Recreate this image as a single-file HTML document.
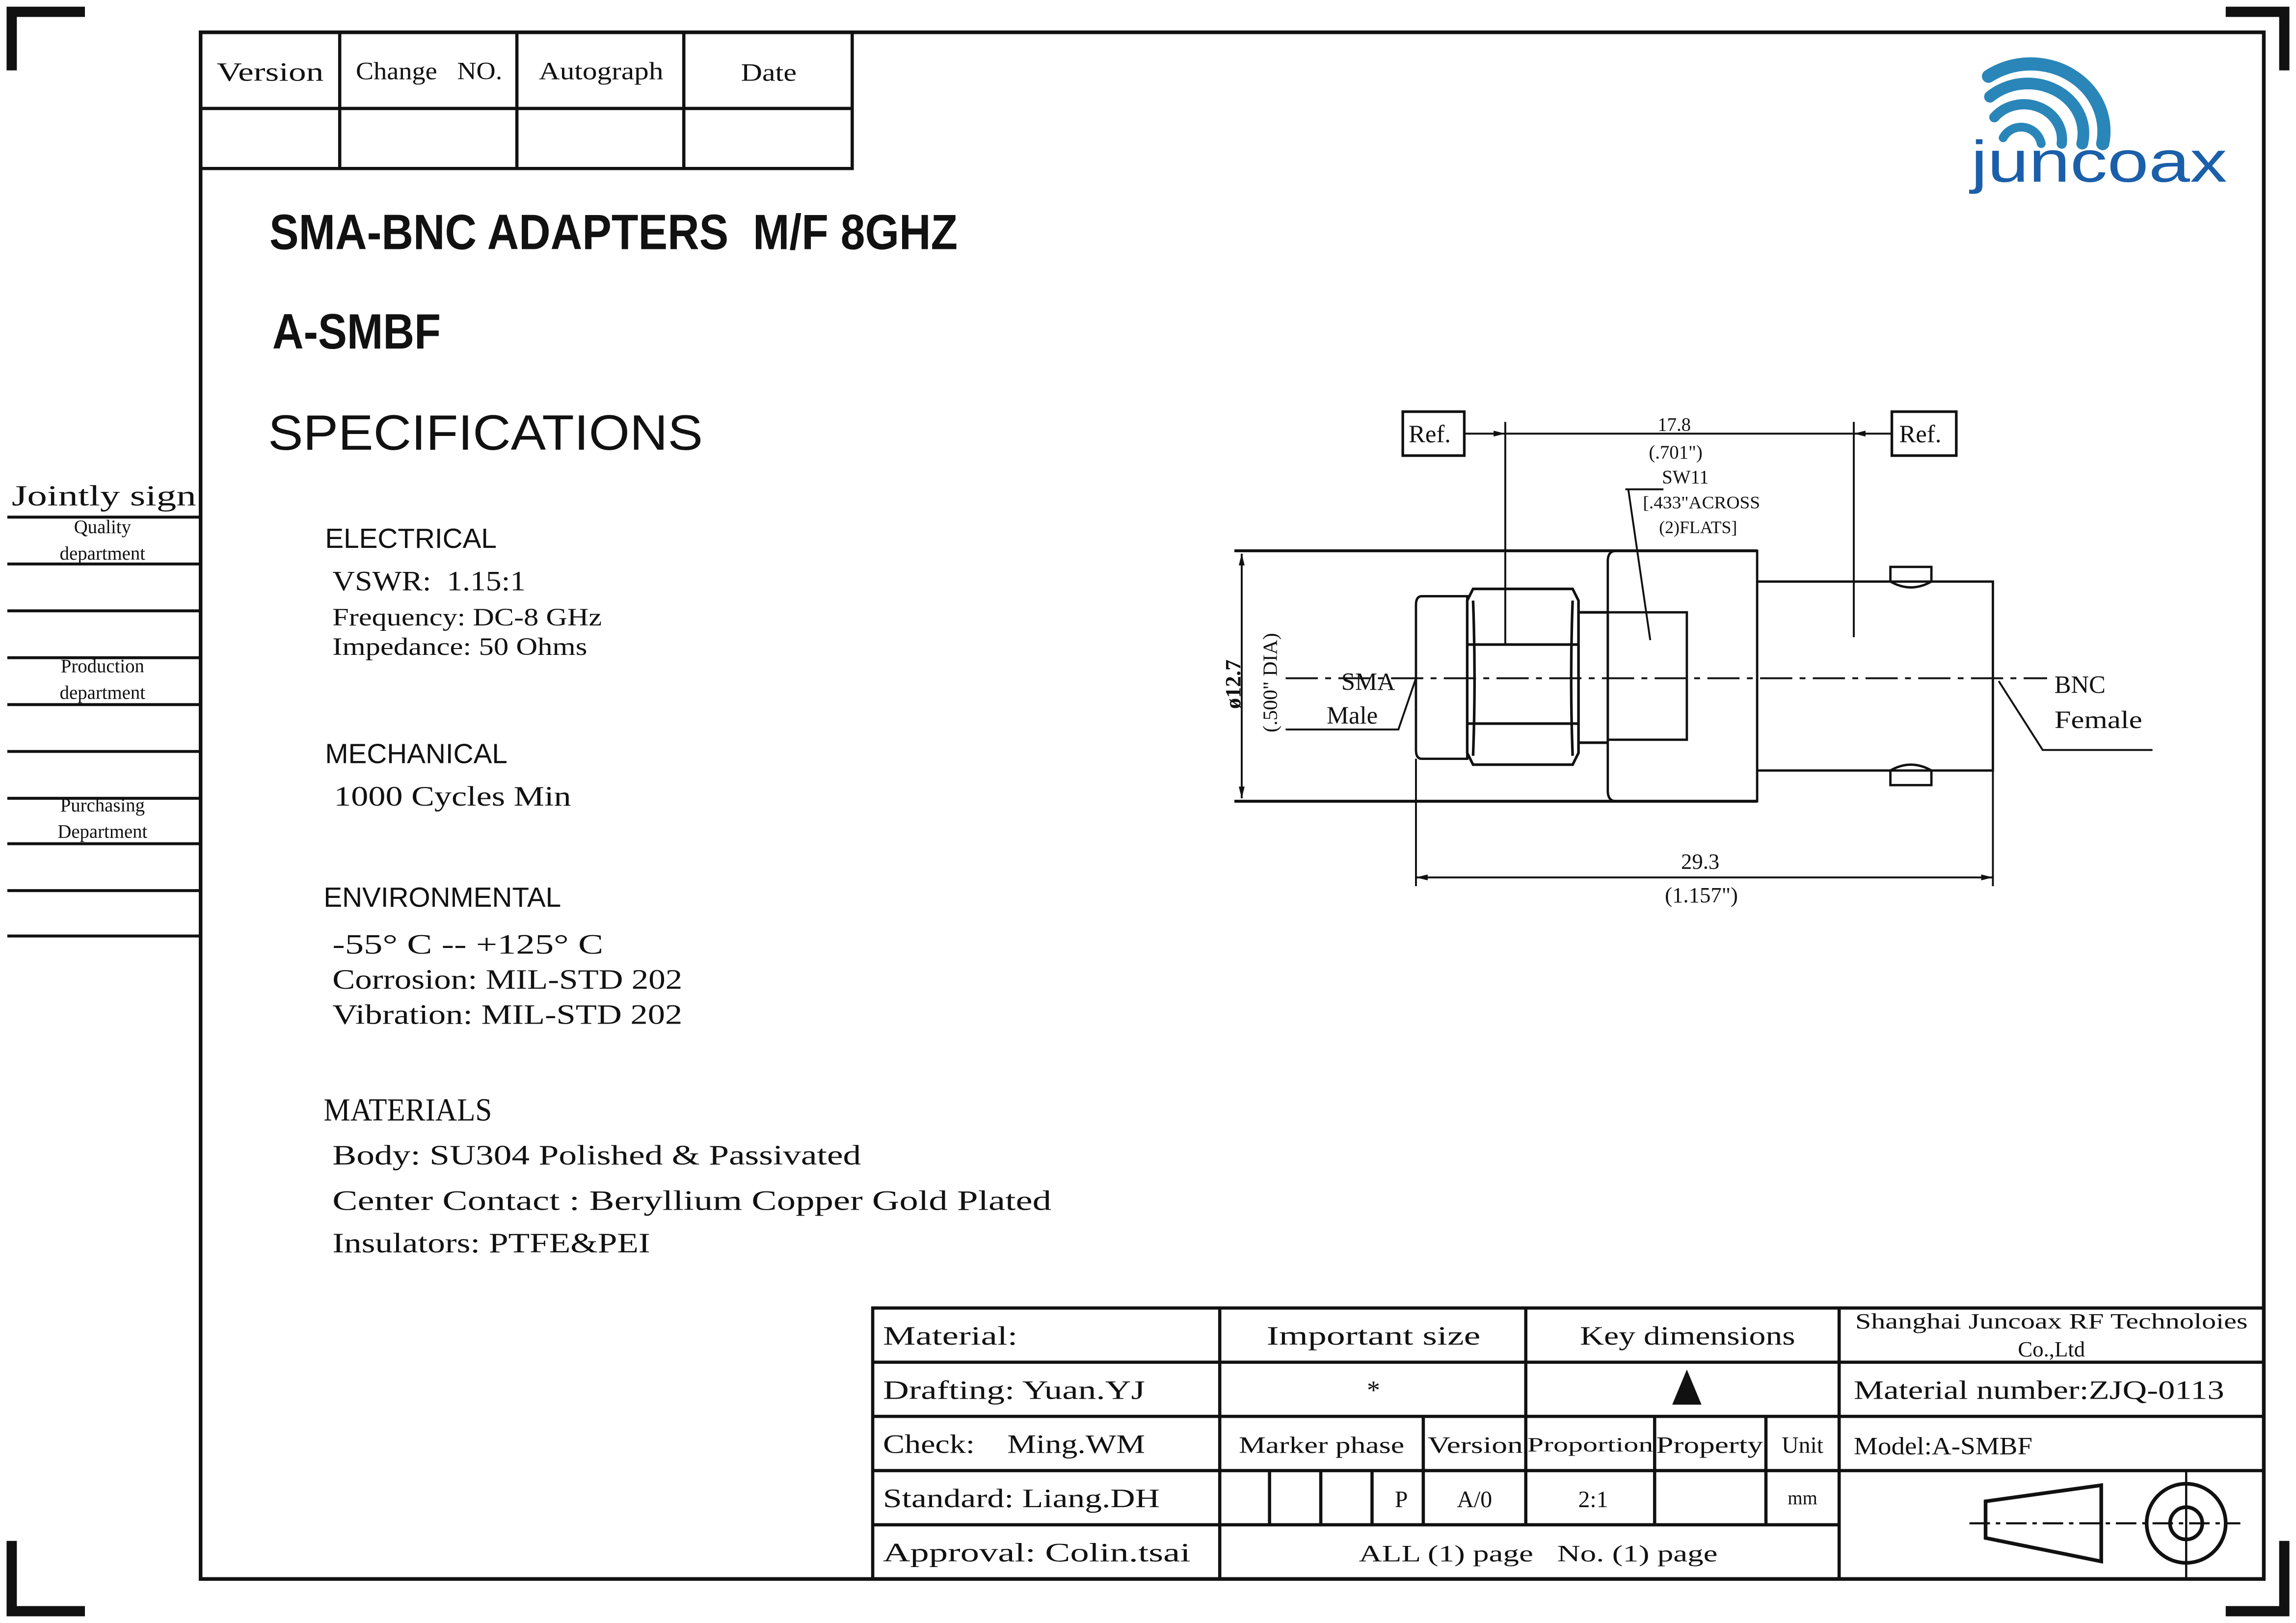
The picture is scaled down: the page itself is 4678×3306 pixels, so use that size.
<!DOCTYPE html>
<html><head><meta charset="utf-8"><style>
html,body{margin:0;padding:0;background:#fff;}
svg{display:block;}
text{font-family:"Liberation Serif","Noto Serif CJK SC",serif;fill:#111;white-space:pre;}
.s{font-family:"Liberation Sans","Noto Sans CJK SC",sans-serif;}
</style></head><body>
<svg width="4678" height="3306" viewBox="0 0 1568 1108" xmlns="http://www.w3.org/2000/svg" xml:space="preserve">
<rect width="1568" height="1108" fill="#fff"/>
<g stroke="#111" stroke-width="7" fill="none">
<path d="M58,8 H8 V48"/>
<path d="M1520,8 H1560 V48"/>
<path d="M8,1052 V1100 H58"/>
<path d="M1520,1100 H1560 V1052"/>
</g>
<rect x="137" y="22" width="1409" height="1056" fill="none" stroke="#111" stroke-width="2.5"/>
<g stroke="#111" stroke-width="2.2" fill="none">
<path d="M137,74 H582 M582,22 V115 H137 M232,22 V115 M353,22 V115 M467,22 V115"/>
</g>
<g font-size="18">
<text x="148" y="55" textLength="73" lengthAdjust="spacingAndGlyphs">Version</text>
<text x="243" y="54" font-size="17" textLength="100" lengthAdjust="spacingAndGlyphs">Change   NO.</text>
<text x="368" y="54" font-size="17" textLength="85" lengthAdjust="spacingAndGlyphs">Autograph</text>
<text x="506" y="55" font-size="17" textLength="38" lengthAdjust="spacingAndGlyphs">Date</text>
</g>
<g fill="none" stroke-linecap="round">
<path d="M1368,94 A14,14 0 0 1 1394,98" stroke="#2a86b8" stroke-width="6"/>
<path d="M1362,80 A26,24 0 0 1 1408,98" stroke="#2a86b8" stroke-width="7"/>
<path d="M1359,66 A38,34 0 0 1 1422,98" stroke="#2a86b8" stroke-width="8"/>
<path d="M1358,52 A50,46 0 0 1 1436,98" stroke="#2a86b8" stroke-width="9"/>
</g>
<text x="1346" y="124" class="s" font-size="40" style="fill:#1b5faa" textLength="175" lengthAdjust="spacingAndGlyphs">juncoax</text>
<text x="184" y="170" class="s" font-size="34" font-weight="bold" textLength="470" lengthAdjust="spacingAndGlyphs">SMA-BNC ADAPTERS  M/F 8GHZ</text>
<text x="186" y="238" class="s" font-size="34" font-weight="bold" textLength="115" lengthAdjust="spacingAndGlyphs">A-SMBF</text>
<text x="183" y="307" class="s" font-size="34" textLength="297" lengthAdjust="spacingAndGlyphs">SPECIFICATIONS</text>
<text x="8" y="345" font-size="20" textLength="126" lengthAdjust="spacingAndGlyphs">Jointly sign</text>
<g stroke="#111" stroke-width="2"><path d="M5,353H137 M5,385H137 M5,417H137 M5,449H137 M5,481H137 M5,513H137 M5,545H137 M5,576H137 M5,608H137 M5,639H137"/></g>
<g font-size="13" text-anchor="middle">
<text x="70" y="364">Quality</text><text x="70" y="382">department</text>
<text x="70" y="459">Production</text><text x="70" y="477">department</text>
<text x="70" y="554">Purchasing</text><text x="70" y="572">Department</text>
</g>
<g font-size="19" lengthAdjust="spacingAndGlyphs">
<text x="222" y="374" class="s">ELECTRICAL</text>
<text x="227" y="403" textLength="132" lengthAdjust="spacingAndGlyphs">VSWR:  1.15:1</text>
<text x="227" y="427" font-size="17" textLength="184" lengthAdjust="spacingAndGlyphs">Frequency: DC-8 GHz</text>
<text x="227" y="447" font-size="17" textLength="174" lengthAdjust="spacingAndGlyphs">Impedance: 50 Ohms</text>
<text x="222" y="521" class="s">MECHANICAL</text>
<text x="228" y="550" textLength="162" lengthAdjust="spacingAndGlyphs">1000 Cycles Min</text>
<text x="221" y="619" class="s">ENVIRONMENTAL</text>
<text x="227" y="651" textLength="185" lengthAdjust="spacingAndGlyphs">-55° C -- +125° C</text>
<text x="227" y="675" textLength="239" lengthAdjust="spacingAndGlyphs">Corrosion: MIL-STD 202</text>
<text x="227" y="699" textLength="239" lengthAdjust="spacingAndGlyphs">Vibration: MIL-STD 202</text>
<text x="221" y="765" font-size="22" textLength="115" lengthAdjust="spacingAndGlyphs">MATERIALS</text>
<text x="227" y="795" textLength="361" lengthAdjust="spacingAndGlyphs">Body: SU304 Polished &amp; Passivated</text>
<text x="227" y="826" textLength="491" lengthAdjust="spacingAndGlyphs">Center Contact : Beryllium Copper Gold Plated</text>
<text x="227" y="855" textLength="217" lengthAdjust="spacingAndGlyphs">Insulators: PTFE&amp;PEI</text>
</g>
<g stroke="#111" fill="none" stroke-width="1.3">
<rect x="958" y="281" width="42" height="30" stroke-width="1.8"/>
<rect x="1292" y="281" width="44" height="30" stroke-width="1.8"/>
<path d="M1000,296 H1292"/>
<path d="M1028,288 V440 M1266,288 V435"/>
<path d="M843,376 H1200 M843,547 H1200" stroke-width="2"/>
<path d="M848,378 V545"/>
<path d="M1104,376 H1200 V547 H1104 Q1098,547 1098,540 V383 Q1098,376 1104,376Z" stroke-width="1.6"/>
<path d="M971,407 H1002 V518 H971 Q967,518 967,512 V413 Q967,407 971,407Z" stroke-width="1.6"/>
<path d="M1006,402 H1074 L1078,410 V514 L1074,522 H1006 L1002,514 V410Z M1002,440 H1078 M1002,494 H1078 M1006,410 Q1008,463 1006,516 M1074,410 Q1072,463 1074,516" stroke-width="1.8"/>
<path d="M1078,418 H1098 M1078,507 H1098" stroke-width="1.8"/>
<rect x="1098" y="418" width="54" height="87" stroke-width="1.6"/>
<path d="M1200,397 H1361 V526 H1200" stroke-width="1.6"/>
<path d="M1291,397 V387 H1319 V397 Q1305,405 1291,397Z M1291,526 Q1305,518 1319,526 V536 H1291Z" stroke-width="1.6"/>
<path d="M878,463 H1398" stroke-dasharray="22,5,4,5"/>
<path d="M967,518 V605 M1361,526 V605 M967,599 H1361"/>
<path d="M878,498 H955 L967,463"/>
<path d="M1365,465 L1395,512 H1470"/>
<path d="M1110,334 H1136 M1112,334 L1127,437"/>
</g>
<g fill="#111">
<path d="M1028,296 l-8,-2 v4z M1266,296 l8,-2 v4z M848,378 l-2,8 h4z M848,545 l-2,-8 h4z M967,599 l8,-2 v4z M1361,599 l-8,-2 v4z"/>
</g>
<g font-size="17">
<text x="962" y="302">Ref.</text>
<text x="1297" y="302">Ref.</text>
<text x="1132" y="294" font-size="13">17.8</text>
<text x="1126" y="313" font-size="13">(.701")</text>
<text x="1135" y="330" font-size="13">SW11</text>
<text x="1122" y="347" font-size="12" textLength="80" lengthAdjust="spacingAndGlyphs">[.433"ACROSS</text>
<text x="1133" y="364" font-size="12">(2)FLATS]</text>
<text x="916" y="471">SMA</text>
<text x="906" y="494">Male</text>
<text x="1403" y="473">BNC</text>
<text x="1403" y="497" textLength="60" lengthAdjust="spacingAndGlyphs">Female</text>
<text x="1148" y="593" font-size="15">29.3</text>
<text x="1137" y="616" font-size="15">(1.157")</text>
<text transform="translate(847,484) rotate(-90)" font-size="15" font-weight="bold">ø12.7</text>
<text transform="translate(872,500) rotate(-90)" font-size="14">(.500" DIA)</text>
</g>
<g stroke="#111" stroke-width="2.2" fill="none">
<rect x="596" y="893" width="950" height="185"/>
<path d="M596,930H1546 M596,967H1546 M596,1004H1546 M596,1041H1256"/>
<path d="M833,893V1078 M1042,893V1041 M1256,893V1078"/>
<path d="M972,967V1041 M1130,967V1041 M1206,967V1041 M867,1004V1041 M902,1004V1041 M937,1004V1041"/>
</g>
<g font-size="18">
<text x="603" y="918" textLength="92" lengthAdjust="spacingAndGlyphs">Material:</text>
<text x="603" y="955" textLength="179" lengthAdjust="spacingAndGlyphs">Drafting: Yuan.YJ</text>
<text x="603" y="992" textLength="179" lengthAdjust="spacingAndGlyphs">Check:    Ming.WM</text>
<text x="603" y="1029" textLength="189" lengthAdjust="spacingAndGlyphs">Standard: Liang.DH</text>
<text x="603" y="1066" textLength="210" lengthAdjust="spacingAndGlyphs">Approval: Colin.tsai</text>
<text x="865" y="918" textLength="146" lengthAdjust="spacingAndGlyphs">Important size</text>
<text x="1079" y="918" textLength="147" lengthAdjust="spacingAndGlyphs">Key dimensions</text>
<text x="938" y="955" text-anchor="middle">*</text>
<text x="846" y="992" font-size="16" textLength="113" lengthAdjust="spacingAndGlyphs">Marker phase</text>
<text x="975" y="992" font-size="16" textLength="65" lengthAdjust="spacingAndGlyphs">Version</text>
<text x="1043" y="991" font-size="14" textLength="86" lengthAdjust="spacingAndGlyphs">Proportion</text>
<text x="1131" y="992" font-size="16" textLength="73" lengthAdjust="spacingAndGlyphs">Property</text>
<text x="1231" y="992" text-anchor="middle" font-size="16">Unit</text>
<text x="957" y="1029" text-anchor="middle" font-size="16">P</text>
<text x="1007" y="1029" text-anchor="middle" font-size="16">A/0</text>
<text x="1088" y="1029" text-anchor="middle" font-size="16">2:1</text>
<text x="1231" y="1027" text-anchor="middle" font-size="13">mm</text>
<text x="928" y="1066" font-size="16" textLength="245" lengthAdjust="spacingAndGlyphs">ALL (1) page   No. (1) page</text>
<text x="1267" y="907" font-size="15" textLength="268" lengthAdjust="spacingAndGlyphs">Shanghai Juncoax RF Technoloies</text>
<text x="1401" y="926" text-anchor="middle" font-size="15">Co.,Ltd</text>
<text x="1266" y="955" textLength="253" lengthAdjust="spacingAndGlyphs">Material number:ZJQ-0113</text>
<text x="1266" y="993" font-size="17" textLength="122" lengthAdjust="spacingAndGlyphs">Model:A-SMBF</text>
</g>
<path d="M1152,935 L1162,959 H1142Z" fill="#111"/>
<g stroke="#111" fill="none">
<path d="M1356,1025 L1435,1014 V1066 L1356,1050Z" stroke-width="2.5"/>
<path d="M1345,1040 H1530" stroke-width="1.5" stroke-dasharray="14,4,3,4"/>
<ellipse cx="1493" cy="1040" rx="27" ry="27" stroke-width="2.5"/>
<ellipse cx="1493" cy="1040" rx="11" ry="11" stroke-width="2.5"/>
<path d="M1493,1004V1078" stroke-width="1.5"/>
</g>
</svg>
</body></html>
